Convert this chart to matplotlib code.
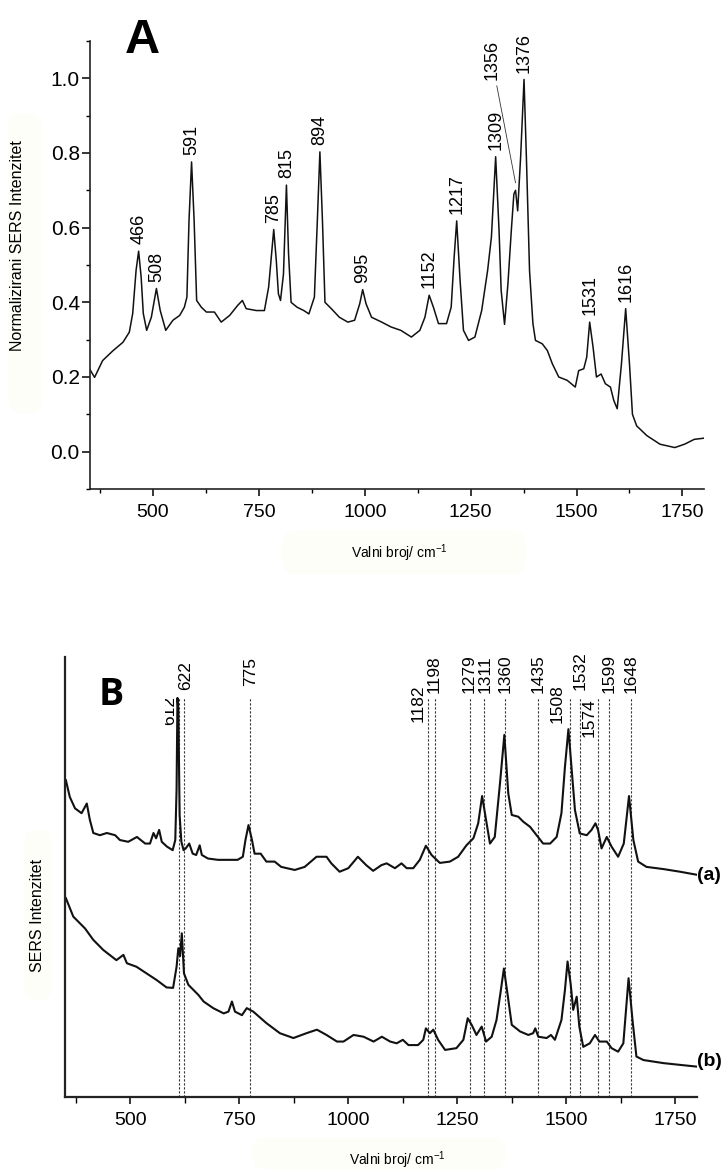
import matplotlib
matplotlib.use("Agg")
import matplotlib.pyplot as plt
from matplotlib.patches import FancyBboxPatch
from matplotlib.ticker import MultipleLocator
from matplotlib.transforms import Bbox

plt.rcParams['font.family'] = ['Liberation Sans', 'DejaVu Sans']
plt.rcParams['mathtext.fontset'] = 'custom'
plt.rcParams['mathtext.rm'] = 'Liberation Sans'
plt.rcParams['mathtext.it'] = 'Liberation Sans:italic'

# ---------------- Panel A data (normalized SERS spectrum) ----------------
top_wn = [350, 362, 381, 405, 429, 444, 452, 460, 466, 472, 477, 485, 496, 508, 517,
          530, 547, 563, 574, 580, 585, 591, 597, 603, 614, 626, 645, 661, 681, 700,
          711, 720, 744, 763, 773, 785, 791, 796, 801, 808, 815, 820, 826, 840, 856,
          868, 881, 888, 894, 900, 906, 921, 940, 960, 976, 988, 995, 1003, 1016, 1040,
          1062, 1085, 1110, 1130, 1142, 1152, 1162, 1174, 1193, 1204, 1211, 1217, 1225,
          1233, 1245, 1260, 1276, 1290, 1299, 1309, 1317, 1322, 1330, 1338, 1346, 1352,
          1356, 1361, 1368, 1376, 1382, 1389, 1397, 1403, 1419, 1431, 1443, 1458, 1478,
          1497, 1505, 1517, 1524, 1531, 1539, 1547, 1558, 1568, 1580, 1588, 1596, 1606,
          1616, 1625, 1632, 1642, 1666, 1697, 1732, 1755, 1778, 1800]
top_int = [0.222, 0.199, 0.244, 0.270, 0.293, 0.320, 0.370, 0.486, 0.537, 0.467, 0.370,
           0.325, 0.360, 0.437, 0.378, 0.325, 0.352, 0.365, 0.387, 0.414, 0.620, 0.776,
           0.620, 0.405, 0.387, 0.374, 0.374, 0.347, 0.365, 0.392, 0.405, 0.383, 0.378,
           0.378, 0.441, 0.595, 0.513, 0.423, 0.405, 0.476, 0.714, 0.530, 0.400, 0.387,
           0.378, 0.369, 0.414, 0.620, 0.803, 0.620, 0.400, 0.383, 0.360, 0.347, 0.352,
           0.396, 0.434, 0.396, 0.360, 0.347, 0.334, 0.325, 0.307, 0.325, 0.360, 0.419,
           0.387, 0.343, 0.343, 0.387, 0.521, 0.618, 0.459, 0.325, 0.298, 0.307, 0.378,
           0.485, 0.575, 0.790, 0.593, 0.432, 0.341, 0.450, 0.593, 0.690, 0.700, 0.645,
           0.790, 0.997, 0.772, 0.485, 0.343, 0.298, 0.289, 0.271, 0.235, 0.200, 0.191,
           0.173, 0.217, 0.222, 0.253, 0.347, 0.280, 0.200, 0.208, 0.182, 0.173, 0.137,
           0.115, 0.235, 0.383, 0.235, 0.100, 0.069, 0.043, 0.020, 0.011, 0.020, 0.033,
           0.036]

top_peak_labels = [466, 508, 591, 785, 815, 894, 995, 1152, 1217, 1309, 1376, 1531, 1616]
top_peak_heights = [0.537, 0.437, 0.776, 0.595, 0.714, 0.803, 0.434, 0.419, 0.618, 0.790,
                    0.997, 0.347, 0.383]
shoulder_label = 1356
shoulder_height = 0.700

# ---------------- Panel B data (two SERS spectra, arbitrary units) ----------------
wn_a = [352, 361, 373, 388, 400, 407, 415, 430, 446, 465, 476, 495, 515, 534, 545, 553,
        559, 566, 572, 584, 597, 603, 606, 608, 610, 613, 617, 622, 627, 635, 643, 651,
        659, 664, 678, 701, 724, 746, 758, 764, 771, 779, 785, 799, 812, 831, 846, 877,
        900, 927, 950, 961, 980, 1000, 1022, 1041, 1057, 1076, 1088, 1107, 1122, 1134,
        1149, 1164, 1178, 1191, 1210, 1233, 1252, 1271, 1287, 1298, 1307, 1316, 1325,
        1336, 1348, 1358, 1367, 1375, 1390, 1401, 1417, 1432, 1447, 1463, 1478, 1489,
        1497, 1505, 1512, 1520, 1531, 1547, 1558, 1567, 1573, 1581, 1593, 1604, 1619,
        1632, 1644, 1654, 1665, 1684, 1723, 1761, 1800]
int_a = [0.720, 0.682, 0.656, 0.645, 0.667, 0.630, 0.600, 0.595, 0.600, 0.595, 0.584,
         0.580, 0.591, 0.576, 0.576, 0.600, 0.588, 0.607, 0.580, 0.569, 0.561, 0.584,
         0.700, 0.907, 0.880, 0.640, 0.580, 0.561, 0.565, 0.576, 0.553, 0.550, 0.572,
         0.550, 0.542, 0.539, 0.539, 0.539, 0.546, 0.584, 0.618, 0.584, 0.553, 0.553,
         0.535, 0.535, 0.523, 0.516, 0.523, 0.546, 0.546, 0.531, 0.512, 0.520, 0.546,
         0.527, 0.514, 0.527, 0.531, 0.520, 0.531, 0.520, 0.520, 0.539, 0.571, 0.550,
         0.532, 0.535, 0.546, 0.572, 0.588, 0.622, 0.684, 0.630, 0.576, 0.591, 0.713,
         0.823, 0.690, 0.641, 0.637, 0.626, 0.614, 0.595, 0.576, 0.576, 0.591, 0.645,
         0.750, 0.836, 0.750, 0.652, 0.599, 0.595, 0.607, 0.622, 0.607, 0.565, 0.591,
         0.569, 0.546, 0.576, 0.684, 0.584, 0.535, 0.523, 0.518, 0.512, 0.505]

wn_b = [352, 369, 396, 415, 438, 468, 484, 492, 514, 537, 560, 583, 598, 606, 610, 614,
        618, 623, 633, 645, 656, 668, 690, 714, 725, 733, 740, 756, 767, 782, 812, 843,
        874, 904, 928, 950, 974, 989, 1012, 1035, 1058, 1077, 1096, 1111, 1125, 1138,
        1160, 1172, 1178, 1187, 1195, 1206, 1222, 1248, 1264, 1274, 1283, 1294, 1306,
        1316, 1329, 1340, 1349, 1357, 1365, 1375, 1394, 1413, 1424, 1429, 1436, 1455,
        1465, 1474, 1489, 1497, 1503, 1510, 1516, 1524, 1530, 1539, 1554, 1566, 1576,
        1593, 1604, 1619, 1631, 1643, 1652, 1661, 1677, 1723, 1761, 1800]
int_b = [0.452, 0.410, 0.383, 0.357, 0.334, 0.311, 0.323, 0.304, 0.296, 0.281, 0.266,
         0.249, 0.248, 0.296, 0.338, 0.320, 0.372, 0.281, 0.255, 0.243, 0.232, 0.217,
         0.202, 0.190, 0.194, 0.217, 0.194, 0.186, 0.202, 0.194, 0.168, 0.145, 0.134,
         0.145, 0.153, 0.141, 0.126, 0.126, 0.141, 0.137, 0.126, 0.137, 0.126, 0.122,
         0.130, 0.118, 0.118, 0.130, 0.156, 0.145, 0.153, 0.130, 0.107, 0.111, 0.130,
         0.179, 0.164, 0.141, 0.160, 0.126, 0.137, 0.175, 0.236, 0.292, 0.236, 0.164,
         0.149, 0.141, 0.145, 0.156, 0.137, 0.134, 0.141, 0.130, 0.175, 0.243, 0.308,
         0.258, 0.198, 0.228, 0.160, 0.114, 0.122, 0.141, 0.126, 0.126, 0.111, 0.103,
         0.122, 0.270, 0.175, 0.092, 0.084, 0.077, 0.073, 0.069]

b_peak_labels = [612, 622, 775, 1182, 1198, 1279, 1311, 1360, 1435, 1508, 1532, 1574,
                 1599, 1648]
series_names = ['(a)', '(b)']

# ---------------- layout helpers ----------------
W, H = 728, 1169
fig = plt.figure(figsize=(W / 100, H / 100), dpi=100)


def fx(px):
    return px / W


def fy(py):
    return 1 - py / H


def pale_box(x0, y0, x1, y1):
    p = FancyBboxPatch((fx(x0), fy(y1)), fx(x1) - fx(x0), fy(y0) - fy(y1),
                       boxstyle="round,pad=0,rounding_size=0.015",
                       transform=fig.transFigure, fc='#fefef8', ec='none', zorder=0)
    fig.patches.append(p)


pale_box(282, 531, 526, 574)
pale_box(8, 113, 42, 413)
pale_box(252, 1138, 506, 1169)
pale_box(24, 830, 52, 1000)

LINE = '#111111'

# ---------------- Panel A ----------------
axA = fig.add_axes([fx(89.5), fy(489), fx(703.6) - fx(89.5), fy(41) - fy(489)])
axA.patch.set_alpha(0)
axA.plot(top_wn, top_int, color=LINE, lw=1.1)
axA.set_xlim(350, 1800)
axA.set_ylim(-0.1, 1.1)
for s in ['top', 'right']:
    axA.spines[s].set_visible(False)
for s in ['left', 'bottom']:
    axA.spines[s].set_linewidth(1.2)
    axA.spines[s].set_color('#222222')
axA.xaxis.set_major_locator(MultipleLocator(250))
axA.xaxis.set_minor_locator(MultipleLocator(125))
axA.yaxis.set_major_locator(MultipleLocator(0.2))
axA.yaxis.set_minor_locator(MultipleLocator(0.1))
axA.tick_params(axis='x', which='major', direction='out', length=5, width=1.1,
                labelsize=14, pad=6)
axA.tick_params(axis='y', which='major', direction='out', length=5.5, width=1.1,
                labelsize=15, pad=1.5)
axA.tick_params(which='minor', direction='out', length=3, width=1.0)

for lab, h in zip(top_peak_labels, top_peak_heights):
    axA.annotate(str(lab), xy=(lab, h), xytext=(0, 5), textcoords='offset points',
                 rotation=90, ha='center', va='bottom', fontsize=13)
axA.annotate(str(shoulder_label), xy=(shoulder_label, shoulder_height + 0.02),
             xytext=(1300, 0.995), textcoords='data', rotation=90, ha='center',
             va='bottom', fontsize=13,
             arrowprops=dict(arrowstyle='-', lw=0.6, color='#333333',
                             shrinkA=2, shrinkB=0))

fig.text(fx(125), fy(53), 'A', fontsize=35, fontweight='bold', ha='left',
         va='baseline')
fig.text(fx(399), fy(553), 'Valni broj/ cm$^{-1}$', ha='center', va='center',
         fontsize=10)
fig.text(fx(18), fy(246), 'Normalizirani SERS Intenzitet', rotation=90, ha='center',
         va='center', fontsize=11.5)

# ---------------- Panel B ----------------
axB = fig.add_axes([fx(65), fy(1097), fx(697) - fx(65), fy(657) - fy(1097)])
axB.patch.set_alpha(0)
axB.set_xlim(350, 1800)
axB.set_ylim(0, 1)
for s in ['top', 'right']:
    axB.spines[s].set_visible(False)
for s in ['left', 'bottom']:
    axB.spines[s].set_linewidth(1.6)
    axB.spines[s].set_color('#222222')
axB.set_yticks([])
axB.xaxis.set_major_locator(MultipleLocator(250))
axB.xaxis.set_minor_locator(MultipleLocator(125))
axB.tick_params(axis='x', which='major', direction='out', length=5, width=1.1,
                labelsize=14, pad=6)
axB.tick_params(axis='x', which='minor', direction='out', length=4, width=1.0)

line_top = 0.909
axB.vlines(b_peak_labels, 0, line_top, colors='#333333', lw=0.8,
           linestyles=(0, (2, 1.6)), zorder=1)
axB.plot(wn_a, int_a, color=LINE, lw=1.5, zorder=2)
axB.plot(wn_b, int_b, color=LINE, lw=1.5, zorder=2)

# label placement: (dx in px, bottom y in px) for crowded labels
label_layout = {612: (-10, 725), 622: (2, 690), 775: (0, 686), 1182: (-10, 722),
                1279: (-1, 693), 1311: (1, 693),
                1508: (-13, 723), 1574: (-9, 737), 1532: (0, 690)}
for lab in b_peak_labels:
    dx, by = label_layout.get(lab, (0, 693))
    ybot = (1097 - by) / 440.0
    t = axB.annotate(str(lab), xy=(lab, ybot), xytext=(dx * 0.72, 0),
                     textcoords='offset points', rotation=90, ha='center',
                     va='bottom', fontsize=12.5, annotation_clip=False)
    if lab == 612:
        t.set_clip_on(True)
        t.set_clip_box(Bbox.from_extents(165, 0, 400, H))

fig.text(fx(697), fy(876), series_names[0], fontsize=14, fontweight='bold',
         ha='left', va='center')
fig.text(fx(697), fy(1062), series_names[1], fontsize=14, fontweight='bold',
         ha='left', va='center')

fig.text(fx(99), fy(705), 'B', fontsize=27, fontweight='bold',
         family=['Open Sans', 'DejaVu Sans'], ha='left', va='baseline')
fig.text(fx(397), fy(1160), 'Valni broj/ cm$^{-1}$', ha='center', va='center',
         fontsize=10)
fig.text(fx(37), fy(915), 'SERS Intenzitet', rotation=90, ha='center', va='center',
         fontsize=11.5)

fig.savefig('out.png', dpi=100)
